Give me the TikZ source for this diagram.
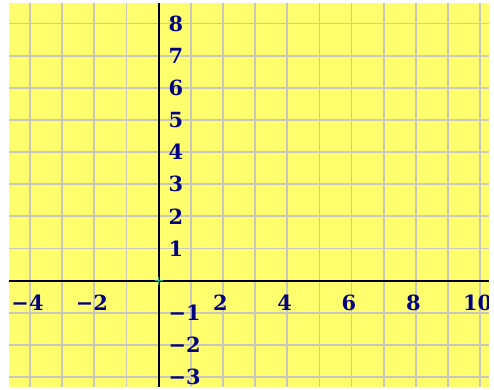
\documentclass[tikz,border=0pt]{standalone}
\usepackage{fontspec}
\setmainfont{DejaVu Serif}
\usetikzlibrary{positioning}
\definecolor{pad}{RGB}{255,255,110}
\definecolor{gridc}{RGB}{200,200,188}
\definecolor{lab}{RGB}{0,0,128}
\definecolor{orig}{RGB}{40,170,150}
\tikzset{gl/.style={draw=gridc,line width=1.6pt},ax/.style={draw=black,line width=1.5pt},lb/.style={text=lab,font=\bfseries\fontsize{18.5}{18.5}\selectfont,inner sep=0pt}}

\begin{document}
\begin{tikzpicture}
\useasboundingbox(-4.936,-3.40)rectangle(10.43,8.731);
\fill[pad](-4.65,-3.3)rectangle(10.26,8.64);
\foreach\i in{-4,...,10}\draw[gl](\i,-3.3)--(\i,8.64);
\foreach\j in{-3,...,8}\draw[gl](-4.65,\j)--(10.26,\j);
\coordinate(xl)at(-4.65,0);\coordinate(xr)at(10.26,0);
\coordinate(yb)at(0,-3.3);\coordinate(yt)at(0,8.64);
\draw[ax](xl)--(xr);\draw[ax](yb)--(yt);
\coordinate(o)at(0,0);
\draw[orig,line width=1.3pt]([xshift=-0.13cm]o)--([xshift=0.13cm]o);
\draw[orig,line width=1.3pt]([yshift=-0.13cm]o)--([yshift=0.13cm]o);
\begin{scope}
\clip(-4.65,-3.3)rectangle(10.26,8.64);
\foreach\i in{-4,-2,2,4,6,8,10}\node[lb](x\i)at(\i-0.08,-0.69){\ifnum\i<0 −\the\numexpr-\i\relax\else\i\fi};
\end{scope}
\foreach\j in{-3,-2,-1,1,2,3,4,5,6,7,8}\node[lb,anchor=west](y\j)at(0.3,\j){\ifnum\j<0 −\the\numexpr-\j\relax\else\j\fi};
\end{tikzpicture}
\end{document}
